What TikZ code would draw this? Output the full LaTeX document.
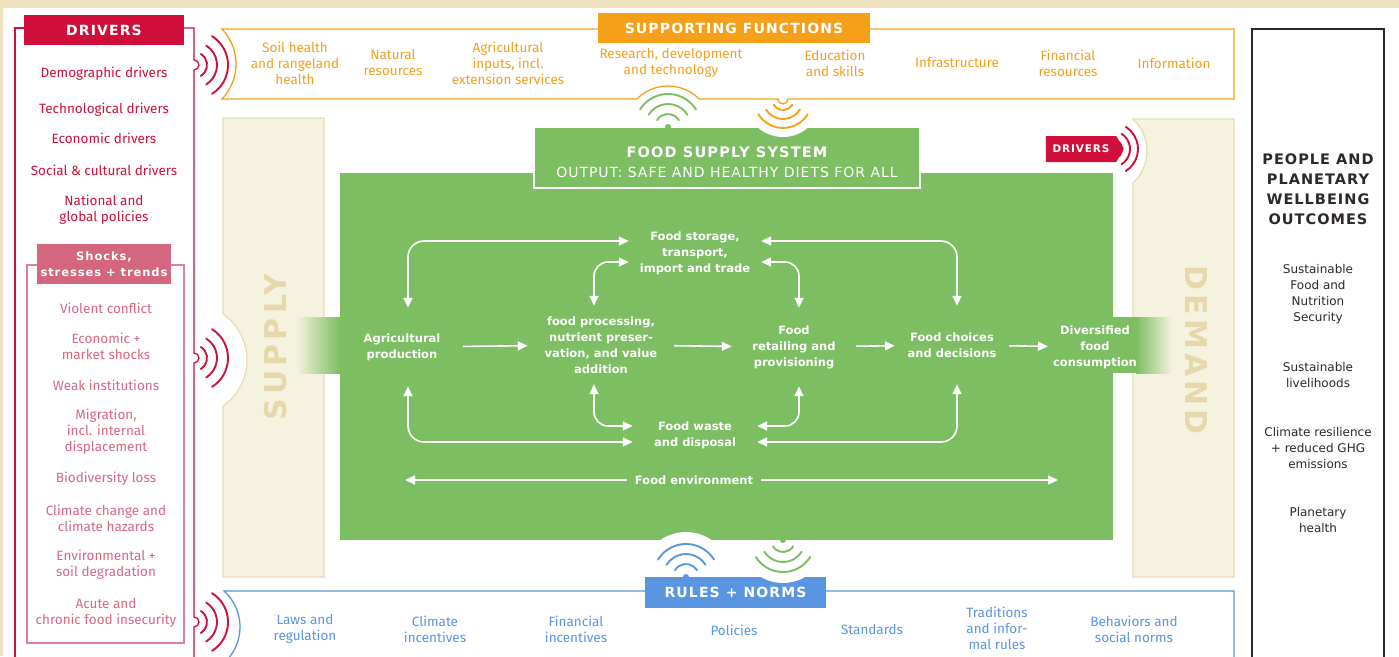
\documentclass[tikz,border=0pt]{standalone}
\usepackage{fontspec}
\setmainfont{Fira Sans}
\newfontfamily\verd{DejaVu Sans}
\newfontfamily\capsfont[LetterSpace=8]{DejaVu Sans}
\newfontfamily\outfont[LetterSpace=7]{DejaVu Sans}
\newfontfamily\barfont[LetterSpace=14]{DejaVu Sans}
\usetikzlibrary{arrows.meta,shapes.symbols}

\definecolor{topbeige}{HTML}{EFE3BF}
\definecolor{drvred}{HTML}{D0103A}
\definecolor{shockfill}{HTML}{D4667F}
\definecolor{shockline}{HTML}{E07F96}
\definecolor{shocktext}{HTML}{DA6782}
\definecolor{suporange}{HTML}{F6A01A}
\definecolor{rulesblue}{HTML}{5A95E2}
\definecolor{foodgreen}{HTML}{7DBE62}
\definecolor{barfill}{HTML}{F6F2E0}
\definecolor{barline}{HTML}{E8DBB2}
\definecolor{barink}{HTML}{E7D8AC}
\definecolor{outtext}{HTML}{2E2828}

% three radio arcs around a source point: point, facing angle, colour, radii
\newcommand{\waves}[4]{%
  \foreach \r in {#4} {
    \draw[wave, #3] (#1) ++(#2-58:\r pt) arc[start angle=#2-58, end angle=#2+58, radius=\r pt];
  }%
}

\begin{document}
\begin{tikzpicture}[
        x=1pt, y=-1pt,
        >={Triangle[length=10pt,width=9pt]},
        fnitem/.style={align=center, inner sep=0pt, font=\fontsize{13.5}{16}\selectfont},
        drvitem/.style={fnitem, text=drvred},
        shockitem/.style={fnitem, text=shocktext},
        supitem/.style={fnitem, text=suporange},
        ruleitem/.style={fnitem, text=rulesblue},
        outitem/.style={align=center, text=outtext, inner sep=0pt, font=\verd\fontsize{12}{16}\selectfont},
        stage/.style={align=center, text=white, inner sep=0pt, font=\verd\bfseries\fontsize{11.5}{16}\selectfont},
        headtag/.style={text=white, inner sep=0pt, align=center, font=\capsfont\bfseries\fontsize{14}{16}\selectfont},
        flow/.style={->, draw=white, line width=1.6pt},
        twoway/.style={<->, draw=white, line width=1.6pt, rounded corners=16pt},
        wave/.style={line width=1.9pt, line cap=round},
        sidebar/.style={fill=barfill, draw=barline, line width=1.2pt},
        bartitle/.style={text=barink, font=\barfont\bfseries\fontsize{30}{30}\selectfont}
    ]

    \useasboundingbox (0,0) rectangle (1399,656);
    \clip (0,0) rectangle (1399,656);

    % Page background
    \fill[topbeige] (0,0) rectangle (1399,656);
    \fill[white] (3,8) rectangle (1399,656);

    % Supply and demand bars
    \path[sidebar] (223,118) -- (324,118) -- (324,577) -- (223,577) -- (223,406)
        arc[start angle=-55.2, end angle=55.2, radius=56pt] -- cycle;
    \path[sidebar] (1133,577) -- (1133,183)
        arc[start angle=-47.2, end angle=47.2, radius=43.6pt] -- (1234,119) -- (1234,577) -- cycle;
    \node[bartitle, rotate=90] (supply) at (276,347) {SUPPLY};
    \node[bartitle, rotate=-90] (demand) at (1196,350) {DEMAND};

    % Fading strips into the bars
    \shade[left color=barfill, right color=foodgreen] (296,317) rectangle (340,373);
    \fill[foodgreen] (1112,317) rectangle (1136,373);
    \shade[left color=foodgreen, right color=barfill] (1136,317) rectangle (1172,373);

    % Food supply system
    \fill[foodgreen] (340,173) rectangle (1113,540);
    \node[draw=white, line width=1.2pt, fill=foodgreen, minimum width=386pt, minimum height=61pt, inner sep=0pt] (fss) at (727,157.5) {};
    \node[headtag, font=\capsfont\bfseries\fontsize{14.5}{18}\selectfont] (fsstitle) at (727,152) {FOOD SUPPLY SYSTEM};
    \node[text=white, inner sep=0pt, font=\outfont\fontsize{14}{18}\selectfont] (fssout) at (727,172) {OUTPUT: SAFE AND HEALTHY DIETS FOR ALL};

    % Wave sources
    \coordinate (grnup) at (668,127);
    \coordinate (orsrc) at (783,99);
    \coordinate (bluesrc) at (686,577);
    \coordinate (grndown) at (783,540);
    \coordinate (drvtop) at (194,65);
    \coordinate (drvmid) at (194,358);
    \coordinate (drvlow) at (194,622);
    \coordinate (drvdem) at (1112,149);

    \fill[white] (orsrc) ++(-38pt,0) arc[start angle=180, end angle=360, radius=38pt] -- cycle;
    \fill[white] (bluesrc) ++(45pt,0) arc[start angle=0, end angle=180, radius=45pt] -- cycle;

    % Supporting functions
    \draw[suporange, line width=1.3pt] (222,99) arc[start angle=-43.6, end angle=43.6, radius=50.75pt]
        -- (1234,29) -- (1234,99) -- (788,99) arc[start angle=0, end angle=-180, radius=5pt]
        -- (699.2,99) arc[start angle=44.8, end angle=135.2, radius=44pt] -- cycle;
    \node[headtag, fill=suporange, minimum width=272pt, minimum height=30pt] (suphead) at (734,28) {SUPPORTING FUNCTIONS};

    \node[supitem] (soil) at (295,63) {Soil health\\and rangeland\\health};
    \node[supitem] (natres) at (393,63) {Natural\\resources};
    \node[supitem] (inputs) at (508,63) {Agricultural\\inputs, incl.\\extension services};
    \node[supitem] (research) at (671,63) {Research, development\\and technology};
    \node[supitem] (edu) at (835,63) {Education\\and skills};
    \node[supitem] (infra) at (957,63) {Infrastructure};
    \node[supitem] (finres) at (1068,63) {Financial\\resources};
    \node[supitem] (info) at (1174,63) {Information};

    % Rules + norms
    \draw[rulesblue, line width=1.3pt] (1234,670) -- (1234,591) -- (224,591)
        arc[start angle=47.9, end angle=-47.9, radius=48.5pt];
    \node[headtag, fill=rulesblue, minimum width=181pt, minimum height=31pt] (ruleshead) at (735.5,592.5) {RULES + NORMS};
    \fill[white] (grndown) ++(-43pt,0) arc[start angle=180, end angle=360, radius=43pt] -- cycle;

    \node[ruleitem] (laws) at (305,629) {Laws and\\regulation};
    \node[ruleitem] (climinc) at (435,629) {Climate\\incentives};
    \node[ruleitem] (fininc) at (576,629) {Financial\\incentives};
    \node[ruleitem] (policies) at (734,630) {Policies};
    \node[ruleitem] (standards) at (872,630) {Standards};
    \node[ruleitem] (traditions) at (997,628) {Traditions\\and infor-\\mal rules};
    \node[ruleitem] (behav) at (1134,629) {Behaviors and\\social norms};

    % Drivers column
    \draw[drvred, line width=1.3pt] (25,28) -- (15,28) -- (15,670);
    \draw[drvred, line width=1.3pt] (184,28) -- (194,28) -- (194,60)
        arc[start angle=90, end angle=-90, radius=5pt] -- (194,353)
        arc[start angle=90, end angle=-90, radius=5pt] -- (194,617)
        arc[start angle=90, end angle=-90, radius=5pt] -- (194,670);
    \node[headtag, fill=drvred, minimum width=160pt, minimum height=30pt] (drvhead) at (104,30) {DRIVERS};

    \node[drvitem] (demo) at (104,74) {Demographic drivers};
    \node[drvitem] (techno) at (104,110) {Technological drivers};
    \node[drvitem] (econ) at (104,138) {Economic drivers};
    \node[drvitem] (social) at (104,170) {Social \& cultural drivers};
    \node[drvitem] (natpol) at (104,210) {National and\\global policies};

    % Shocks box inside drivers
    \draw[shockline, line width=1.3pt] (37,265) -- (27,265) -- (27,643) -- (184,643) -- (184,265) -- (171,265);
    \node[headtag, fill=shockfill, minimum width=134pt, minimum height=40pt,
        font=\capsfont\bfseries\fontsize{11.5}{16}\selectfont] (shockhead) at (104,264) {Shocks,\\stresses + trends};

    \node[shockitem] (conflict) at (106,308) {Violent conflict};
    \node[shockitem] (market) at (106,346) {Economic +\\market shocks};
    \node[shockitem] (weak) at (106,385) {Weak institutions};
    \node[shockitem] (migration) at (106,432) {Migration,\\incl. internal\\displacement};
    \node[shockitem] (biodiv) at (106,479) {Biodiversity loss};
    \node[shockitem] (climate) at (106,518) {Climate change and\\climate hazards};
    \node[shockitem] (soildeg) at (106,565) {Environmental +\\soil degradation};
    \node[shockitem] (insecure) at (106,613) {Acute and\\chronic food insecurity};

    % Drivers tag on the demand side
    \node[signal, signal to=east, signal pointer angle=120, fill=drvred, text=white, inner sep=0pt,
        minimum width=78pt, minimum height=26pt, font=\capsfont\bfseries\fontsize{10.5}{12}\selectfont] (drvtag) at (1081,149) {DRIVERS};

    % Radio waves
    \waves{drvtop}{0}{drvred}{13,23,34}
    \waves{drvmid}{0}{drvred}{13,23,34}
    \waves{drvlow}{0}{drvred}{13,23,34}
    \waves{drvdem}{0}{drvred}{10,18,26}
    \waves{grnup}{90}{foodgreen}{13,23,33}
    \waves{orsrc}{-90}{suporange}{11,20,29}
    \waves{bluesrc}{90}{rulesblue}{13,23,33}
    \waves{grndown}{-90}{foodgreen}{12,22,32}
    \fill[foodgreen] (grnup) circle (3pt);
    \fill[rulesblue] (bluesrc) circle (3pt);
    \fill[foodgreen] (grndown) circle (3pt);

    % Stages of the food supply chain
    \node[stage, minimum width=122pt, minimum height=78pt] (agri) at (402,347) {Agricultural\\production};
    \node[stage, minimum width=146pt, minimum height=78pt] (proc) at (601,345) {food processing,\\nutrient preser-\\vation, and value\\addition};
    \node[stage, minimum width=124pt, minimum height=78pt] (retail) at (794,347) {Food\\retailing and\\provisioning};
    \node[stage, minimum width=114pt, minimum height=78pt] (choice) at (952,345) {Food choices\\and decisions};
    \node[stage] (diet) at (1095,347) {Diversified\\food\\consumption};
    \node[stage, minimum width=132pt] (store) at (695,253) {Food storage,\\transport,\\import and trade};
    \node[stage, minimum width=124pt] (waste) at (695,435) {Food waste\\and disposal};
    \node[stage, fill=foodgreen, inner xsep=8pt] (env) at (694,480) {Food environment};
    \coordinate (envL) at (405,480);
    \coordinate (envR) at (1058,480);

    % Main chain
    \draw[flow] (agri) -- (proc);
    \draw[flow] (proc) -- (retail);
    \draw[flow] (retail) -- (choice);
    \draw[flow, shorten >=5pt] (choice) -- (diet);
    \draw[flow] (env) -- (envL);
    \draw[flow] (env) -- (envR);

    % Loops through storage
    \draw[twoway] ([xshift=6pt]agri.north) |- ([yshift=12pt]store.west);
    \draw[twoway] ([xshift=5pt]choice.north) |- ([yshift=12pt]store.east);
    \draw[twoway, rounded corners=14pt] ([xshift=-7pt]proc.north) |- ([yshift=-9pt]store.west);
    \draw[twoway, rounded corners=14pt] ([xshift=5pt]retail.north) |- ([yshift=-9pt]store.east);

    % Loops through waste
    \draw[twoway, rounded corners=14pt] ([xshift=-7pt]proc.south) |- ([yshift=9pt]waste.west);
    \draw[twoway, rounded corners=14pt] ([xshift=5pt]retail.south) |- ([yshift=9pt]waste.east);
    \draw[twoway] ([xshift=6pt]agri.south) |- ([yshift=-7pt]waste.west);
    \draw[twoway] ([xshift=5pt]choice.south) |- ([yshift=-7pt]waste.east);

    % Outcomes
    \draw[outtext, line width=1.3pt] (1252,29) rectangle (1384,680);
    \node[align=center, text=outtext, inner sep=0pt,
        font=\outfont\bfseries\fontsize{14.5}{20}\selectfont] (outhead) at (1318,189) {PEOPLE AND\\PLANETARY\\WELLBEING\\OUTCOMES};
    \node[outitem] (fns) at (1318,294) {Sustainable\\Food and\\Nutrition\\Security};
    \node[outitem] (liveli) at (1318,375) {Sustainable\\livelihoods};
    \node[outitem] (resil) at (1318,448) {Climate resilience\\+ reduced GHG\\emissions};
    \node[outitem] (planet) at (1318,520) {Planetary\\health};

\end{tikzpicture}
\end{document}
